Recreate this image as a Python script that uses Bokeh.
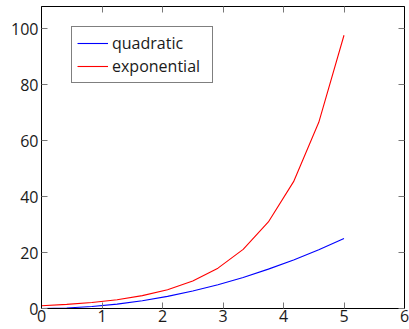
from bokeh.plotting import figure
from bokeh.models import Range1d, LinearAxis, FixedTicker, Legend, LegendItem
from bokeh.embed import file_html
from bokeh.resources import INLINE

x = [0.0, 0.4167, 0.8333, 1.25, 1.6667, 2.0833, 2.5, 2.9167, 3.3333, 3.75, 4.1667, 4.5833, 5.0]
quadratic = [0.0, 0.17, 0.69, 1.56, 2.78, 4.34, 6.25, 8.51, 11.1, 14.06, 17.36, 21.0, 25.0]
exponential = [1.0, 1.46, 2.14, 3.1, 4.6, 6.7, 9.8, 14.4, 21.1, 30.9, 45.3, 66.5, 97.6]
x_ticks = [0, 1, 2, 3, 4, 5, 6]
y_ticks = [0, 20, 40, 60, 80, 100]

FONT = "Open Sans"
TICK = "#777777"
TXT = "#1a1a1a"

p = figure(width=409, height=329, output_backend="svg", toolbar_location=None,
           x_range=Range1d(0, 6), y_range=Range1d(0, 107.86),
           min_border_left=41, min_border_right=5, min_border_top=6, min_border_bottom=21,
           x_axis_location=None, y_axis_location=None)
p.grid.visible = False
p.outline_line_color = "black"
p.outline_line_width = 1
p.background_fill_color = "white"
p.border_fill_color = "white"

def style(ax, ticks, labels=True):
    ax.major_tick_in = 6
    ax.major_tick_out = 0
    ax.minor_tick_line_color = None
    ax.major_tick_line_color = TICK
    ax.axis_line_color = "black"
    ax.major_label_text_font = FONT
    ax.major_label_text_font_size = "16px"
    ax.major_label_text_color = TXT
    if not labels:
        ax.major_label_overrides = {t: "" for t in ticks}
        ax.major_label_standoff = 0

bx = LinearAxis(ticker=FixedTicker(ticks=x_ticks)); style(bx, x_ticks); bx.major_label_standoff = 1
ly = LinearAxis(ticker=FixedTicker(ticks=y_ticks)); style(ly, y_ticks); ly.major_label_standoff = 3
tx = LinearAxis(ticker=FixedTicker(ticks=x_ticks)); style(tx, x_ticks, False)
ry = LinearAxis(ticker=FixedTicker(ticks=y_ticks)); style(ry, y_ticks, False)
p.add_layout(bx, "below")
p.add_layout(ly, "left")
p.add_layout(tx, "above")
p.add_layout(ry, "right")

r1 = p.line(x, quadratic, line_color="#0000ff", line_width=1.1)
r2 = p.line(x, exponential, line_color="#ff0000", line_width=1.1)

legend = Legend(items=[LegendItem(label="quadratic", renderers=[r1]),
                       LegendItem(label="exponential", renderers=[r2])],
                location=(30, 225), orientation="vertical")
legend.label_text_font = FONT
legend.label_text_font_size = "16px"
legend.label_text_color = TXT
legend.border_line_color = "black"
legend.border_line_width = 1
legend.background_fill_color = "white"
legend.background_fill_alpha = 1
legend.padding = 5
legend.spacing = 1
legend.margin = 0
legend.label_height = 22
legend.glyph_height = 22
legend.glyph_width = 31
legend.label_standoff = 4
legend.label_width = 95
p.add_layout(legend, "center")

open("out.html", "w").write(file_html(p, INLINE))
